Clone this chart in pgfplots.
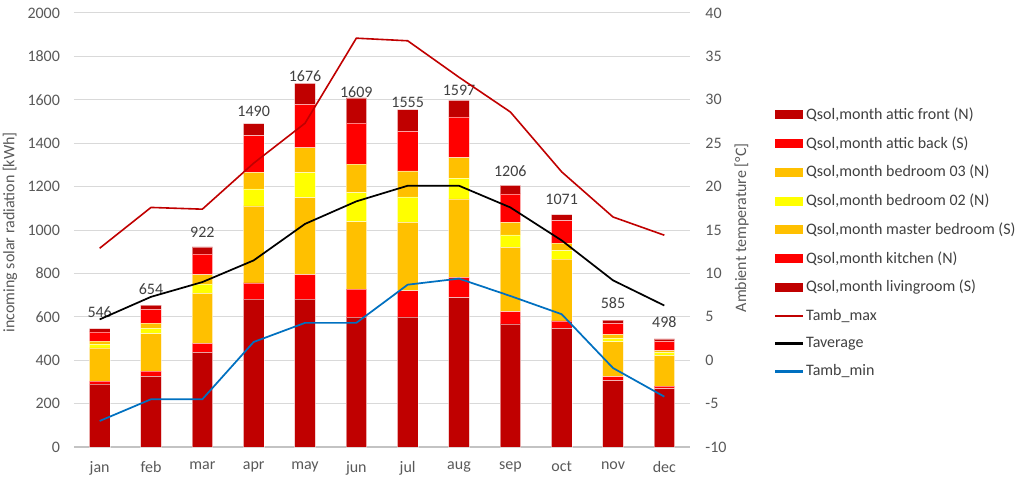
\documentclass[border=0pt]{standalone}
\usepackage{pgfplots}
\pgfplotsset{compat=1.18}
\usepackage{pgfplotstable}
\usepackage{fontspec}
\setmainfont{Carlito}
\definecolor{dred}{HTML}{C00000}
\definecolor{bred}{HTML}{FF0000}
\definecolor{orng}{HTML}{FFC000}
\definecolor{yell}{HTML}{FFFF00}
\definecolor{tblue}{HTML}{0070C0}
\definecolor{txt}{HTML}{595959}
\definecolor{txtd}{HTML}{404040}
\definecolor{gridc}{HTML}{D9D9D9}

\pgfplotstableread{
x living kitchen master bedtwo bedthree back front total
0  290  14 153  16  15  43  15  546
1  326  24 172  25  24  63  20  654
2  436  42 230  43  43  95  33  922
3  681  75 355  78  77 169  55 1490
4  681 113 355 115 115 200  97 1676
5  598 130 310 134 132 189 116 1609
6  600 120 315 118 119 183 100 1555
7  688  94 361  95  95 188  76 1597
8  567  57 296  58  57 131  40 1206
9  547  34 285  39  35 103  28 1071
10 306  18 161  16  18  51  15  585
11 269  11 141  14   9  43  11  498
}\solar

\pgfplotstableread{
x tmax tavg tmin
0  12.9  4.7 -7.0
1  17.6  7.3 -4.5
2  17.4  9.0 -4.5
3  22.7 11.5  2.1
4  27.3 15.7  4.3
5  37.1 18.3  4.3
6  36.8 20.1  8.7
7  32.6 20.1  9.4
8  28.6 17.6  7.4
9  21.7 13.8  5.3
10 16.5  9.2 -0.9
11 14.4  6.3 -4.2
}\temps

\begin{document}
\begin{tikzpicture}[font=\fontsize{12}{14}\selectfont]
\useasboundingbox (-55.5pt,-24pt) rectangle (708.75pt,335.25pt);
\begin{axis}[
  at={(0,0)}, anchor=south west,
  scale only axis, width=462pt, height=325.5pt,
  xmin=-0.5, xmax=11.5, ymin=0, ymax=2000,
  ybar stacked, bar width=0.4,
  xtick={0,...,11},
  xticklabels={jan,feb,mar,apr,may,jun,jul,aug,sep,oct,nov,dec},
  ytick={0,200,...,2000},
  scaled y ticks=false,
  /pgf/number format/1000 sep={},
  /pgf/number format/assume math mode=true,
  ymajorgrids, grid style={gridc, line width=0.75pt},
  axis x line*=bottom, axis y line*=left,
  x axis line style={draw=gridc!90!black, line width=1pt},
  y axis line style={draw=none},
  major tick length=0pt,
  tick label style={text=txt, font=\fontsize{12}{14}\selectfont},
  xticklabel style={yshift=-7.5pt},
  yticklabel style={xshift=-7pt},
  ylabel={incoming solar radiation [kWh]},
  ylabel style={at={(axis description cs:-0.104,0.495)}, anchor=center, text=txt, font=\fontsize{12}{14}\selectfont},
  every axis plot/.append style={draw=white, draw opacity=0.5, line width=0.4pt},
]
\addplot[fill=dred] table[x=x,y=living]{\solar};
\addplot[fill=bred] table[x=x,y=kitchen]{\solar};
\addplot[fill=orng] table[x=x,y=master]{\solar};
\addplot[fill=yell] table[x=x,y=bedtwo]{\solar};
\addplot[fill=orng] table[x=x,y=bedthree]{\solar};
\addplot[fill=bred] table[x=x,y=back]{\solar};
\addplot[fill=dred, point meta=explicit, nodes near coords,
  nodes near coords style={text=txtd, anchor=south, yshift=6pt, font=\fontsize{12}{14}\selectfont}]
  table[x=x,y=front,meta=total]{\solar};
\end{axis}

\begin{axis}[
  at={(0,0)}, anchor=south west,
  scale only axis, width=462pt, height=325.5pt,
  xmin=-0.5, xmax=11.5, ymin=-10, ymax=40,
  ytick={-10,-5,...,40},
  /pgf/number format/assume math mode=true,
  axis x line=none, axis y line*=right,
  y axis line style={draw=none},
  major tick length=0pt,
  tick label style={text=txt, font=\fontsize{12}{14}\selectfont},
  yticklabel style={xshift=8pt},
  ylabel={Ambient temperature [°C]},
  ylabel style={at={(axis description cs:1.084,0.505)}, anchor=center, rotate=0, text=txt, font=\fontsize{12}{14}\selectfont},
  legend cell align=left,
  legend style={at={(axis description cs:1.138,0.785)}, anchor=north west,
    draw=none, fill=none, inner sep=0pt, outer sep=0pt,
    row sep=9.3pt, column sep=2pt,
    text=txtd, font=\fontsize{12}{14}\selectfont,
    nodes={inner sep=1pt}},
]
\addlegendimage{legend image code/.code={\fill[dred] (0pt,-3pt) rectangle (20pt,3pt);}}
\addlegendentry{Qsol,month attic front (N)}
\addlegendimage{legend image code/.code={\fill[bred] (0pt,-3pt) rectangle (20pt,3pt);}}
\addlegendentry{Qsol,month attic back (S)}
\addlegendimage{legend image code/.code={\fill[orng] (0pt,-3pt) rectangle (20pt,3pt);}}
\addlegendentry{Qsol,month bedroom 03 (N)}
\addlegendimage{legend image code/.code={\fill[yell] (0pt,-3pt) rectangle (20pt,3pt);}}
\addlegendentry{Qsol,month bedroom 02 (N)}
\addlegendimage{legend image code/.code={\fill[orng] (0pt,-3pt) rectangle (20pt,3pt);}}
\addlegendentry{Qsol,month master bedroom (S)}
\addlegendimage{legend image code/.code={\fill[bred] (0pt,-3pt) rectangle (20pt,3pt);}}
\addlegendentry{Qsol,month kitchen (N)}
\addlegendimage{legend image code/.code={\fill[dred] (0pt,-3pt) rectangle (20pt,3pt);}}
\addlegendentry{Qsol,month livingroom (S)}
\addlegendimage{legend image code/.code={\fill[dred] (0pt,-0.6pt) rectangle (20pt,0.6pt);}}
\addlegendentry{Tamb\_max}
\addlegendimage{legend image code/.code={\fill[black] (0pt,-0.65pt) rectangle (20pt,0.65pt);}}
\addlegendentry{Taverage}
\addlegendimage{legend image code/.code={\fill[tblue] (0pt,-0.65pt) rectangle (20pt,0.65pt);}}
\addlegendentry{Tamb\_min}
\addplot[dred, line width=1.2pt, forget plot] table[x=x,y=tmax]{\temps};
\addplot[black, line width=1.3pt, forget plot] table[x=x,y=tavg]{\temps};
\addplot[tblue, line width=1.3pt, forget plot] table[x=x,y=tmin]{\temps};
\end{axis}
\end{tikzpicture}
\end{document}
